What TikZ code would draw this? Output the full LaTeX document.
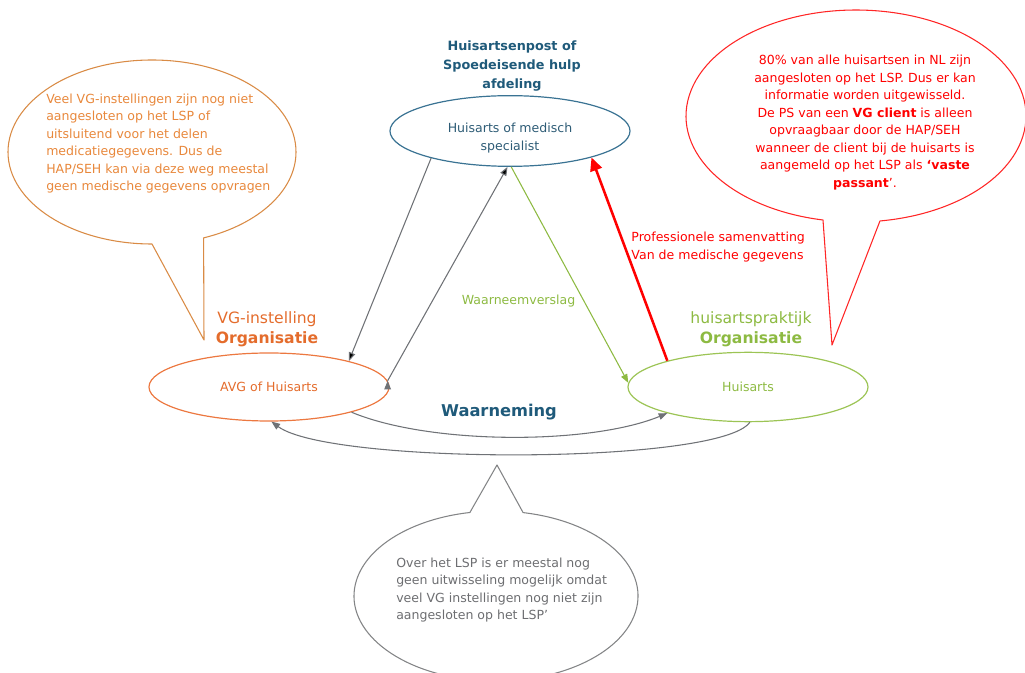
\documentclass[tikz,border=0pt]{standalone}
\usepackage{fontspec}
\setmainfont{DejaVu Sans}
\usetikzlibrary{arrows.meta, shapes.geometric, positioning}
\definecolor{hapblue}{HTML}{1F5A7A}
\definecolor{hapline}{HTML}{3A7393}
\definecolor{vgorange}{HTML}{E46C2C}
\definecolor{vgline}{HTML}{EC7840}
\definecolor{vgnotecol}{HTML}{E8883C}
\definecolor{vgbubble}{HTML}{D98B45}
\definecolor{hagreen}{HTML}{8DBA42}
\definecolor{haline}{HTML}{9CC455}
\definecolor{lspred}{HTML}{FF0000}
\definecolor{flowgray}{HTML}{6F7276}
\definecolor{notegray}{HTML}{6D6E71}
\newcommand{\smalltxt}{\fontsize{9.4}{13.1}\selectfont}
\newcommand{\bigtxt}{\fontsize{11.7}{15}\selectfont}

\begin{document}
\begin{tikzpicture}[x=0.75pt, y=-0.75pt,
        >={Triangle[length=6.5pt,width=5pt]},
        every node/.style={inner sep=0pt},
        party/.style={ellipse, draw, line width=0.9pt, minimum width=180pt, minimum height=52pt, font=\smalltxt},
        note/.style={font=\smalltxt, align=left},
        orglabel/.style={font=\bigtxt, align=center},
        bubble/.style={draw, line width=0.8pt, line join=round},
        flow/.style={->, draw=flowgray, line width=0.8pt}
        ]
        \useasboundingbox (0,0) rectangle (1025,673);

        % speech bubbles
        \draw[bubble, draw=vgbubble] (152,244) arc[start angle=90, end angle=429, x radius=144, y radius=92] -- (204,340) -- cycle;
        \draw[bubble, draw=lspred!85] (823,220) arc[start angle=101.2, end angle=441.9, x radius=170, y radius=106] -- (832,345) -- cycle;
        \draw[bubble, draw=notegray!85] (523.1,512.6) arc[start angle=281, end angle=619.4, x radius=142, y radius=85] -- (497,465) -- cycle;

        \node[note, text=vgnotecol, anchor=west] (vgnote) at (46,143.5) {Veel VG-instellingen zijn nog niet\\aangesloten op het LSP of\\uitsluitend voor het delen\\medicatiegegevens. Dus de\\HAP/SEH kan via deze weg meestal\\geen medische gegevens opvragen};
        \node[note, text=lspred, align=center] (lspnote) at (865,122.5) {80\% van alle huisartsen in NL zijn\\aangesloten op het LSP. Dus er kan\\informatie worden uitgewisseld.\\De PS van een \textbf{VG client} is alleen\\opvraagbaar door de HAP/SEH\\wanneer de client bij de huisarts is\\aangemeld op het LSP als {\bfseries ‘vaste}\\{\bfseries passant}’.};
        \node[note, text=notegray, anchor=west] (waarnote) at (396,590) {Over het LSP is er meestal nog\\geen uitwisseling mogelijk omdat\\veel VG instellingen nog niet zijn\\aangesloten op het LSP’};

        % parties
        \node[party, draw=hapline, minimum height=53pt] (hap) at (510,131) {};
        \node[font=\smalltxt, text=hapline!80!black, align=center] (haptext) at (510,138) {Huisarts of medisch\\specialist};
        \node[font=\bfseries\fontsize{9.6}{13.9}\selectfont, text=hapblue, align=center] (haptitle) at (512,66) {Huisartsenpost of\\Spoedeisende hulp\\afdeling};

        \node[party, draw=vgline, minimum height=51pt, text=vgorange] (avg) at (269,387) {AVG of Huisarts};
        \node[orglabel, text=vgorange] (vglabel) at (267,329) {VG-instelling\\\textbf{Organisatie}};

        \node[party, draw=haline, text=hagreen] (ha) at (748,387) {Huisarts};
        \node[orglabel, text=hagreen] (halabel) at (751,329) {huisartspraktijk\\\textbf{Organisatie}};

        \node[font=\bfseries\fontsize{12.2}{15}\selectfont, text=hapblue] (waarneming) at (499,412) {Waarneming};

        % connectors
        \path[flow] (hap.199) edge (avg.18)
                    (avg.3) edge (hap.266);
        \draw[->, draw=hagreen, line width=0.8pt] (hap.272) -- node[pos=0.62, left=6pt, font=\smalltxt, text=hagreen] (verslag) {Waarneemverslag} (ha.178);
        \draw[-{Triangle[length=10pt,width=9pt]}, draw=lspred, line width=1.9pt] (ha.162) -- node[pos=0.56, right=4pt, note, text=lspred] (samenvatting) {Professionele samenvatting\\Van de medische gegevens} (hap.342);
        \draw[flow] (avg.343.8) .. controls (430,445) and (590,445) .. (ha.198.6);
        \draw[flow] (ha.273) .. controls (720,465) and (330,465) .. (avg.274);
\end{tikzpicture}
\end{document}
